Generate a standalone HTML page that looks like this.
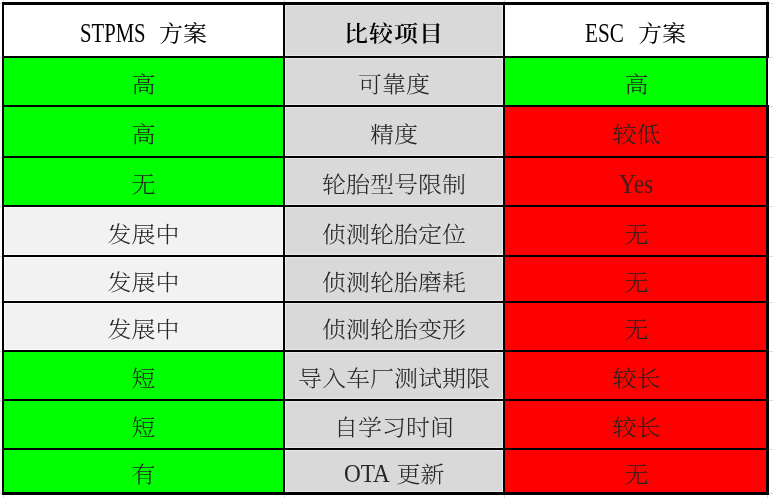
<!DOCTYPE html>
<html lang="zh-CN"><head><meta charset="utf-8"><title>STPMS vs ESC</title>
<style>
html,body{margin:0;padding:0;background:#fff;}
body{width:773px;height:500px;position:relative;overflow:hidden;font-family:"Liberation Serif","Noto Serif CJK SC",serif;}
#frame{position:absolute;left:2px;top:2px;width:767px;height:493px;background:#000;}
  .gl{position:absolute;background:#dcdcdc;}
#notch{position:absolute;left:768px;top:58px;width:1px;height:47px;background:#fff;}
.c{position:absolute;text-align:center;white-space:nowrap;font-size:24px;color:#222;font-weight:300;overflow:hidden;}
.c>span.t{position:relative;display:inline-block;transform:scaleY(0.92);transform-origin:50% 50%;}
.ry{box-shadow:inset 0 0 0 1px #e8e8e8;}
.rl{box-shadow:inset 0 0 0 1px #fbfbfb;}
.h{color:#000;font-weight:400;}
.hb{color:#000;font-weight:600;letter-spacing:1px;}
.m{color:#262626;}
.lat{display:inline-block;position:relative;font-size:28px;height:1em;line-height:1em;vertical-align:baseline;text-align:left;}
.lat>span{display:inline-block;transform-origin:0 50%;white-space:nowrap;}
</style></head><body>
<div class="gl" style="left:0;top:3px;width:773px;height:1px"></div>
<div class="gl" style="left:0;top:57px;width:773px;height:1px"></div>
<div class="gl" style="left:0;top:106px;width:773px;height:1px"></div>
<div class="gl" style="left:0;top:157px;width:773px;height:1px"></div>
<div class="gl" style="left:0;top:206px;width:773px;height:1px"></div>
<div class="gl" style="left:0;top:256px;width:773px;height:1px"></div>
<div class="gl" style="left:0;top:302px;width:773px;height:1px"></div>
<div class="gl" style="left:0;top:351px;width:773px;height:1px"></div>
<div class="gl" style="left:0;top:400px;width:773px;height:1px"></div>
<div class="gl" style="left:0;top:449px;width:773px;height:1px"></div>
<div class="gl" style="left:0;top:493px;width:773px;height:1px"></div>
<div class="gl" style="left:3px;top:0;width:1px;height:498px"></div>
<div class="gl" style="left:284px;top:0;width:1px;height:498px"></div>
<div class="gl" style="left:504px;top:0;width:1px;height:498px"></div>
<div class="gl" style="left:767px;top:0;width:1px;height:498px"></div>
<div id="frame"></div><div id="notch"></div>
<div class="c h" style="left:4px;top:5px;width:279px;height:51px;line-height:51px;background:#ffffff"><span class="t" style="top:4px;left:0px"><span class="lat" style="width:64px;margin:0 15px 0 0px;top:1px;font-size:30px"><span style="transform:scaleX(0.69)">STPMS</span></span>方案</span></div>
<div class="c hb ry" style="left:285px;top:5px;width:218px;height:51px;line-height:51px;background:#d9d9d9"><span class="t" style="top:4px;left:0px">比较项目</span></div>
<div class="c h" style="left:505px;top:5px;width:261px;height:51px;line-height:51px;background:#ffffff"><span class="t" style="top:4px;left:0px"><span class="lat" style="width:39px;margin:0 14px 0 0px;top:1px;font-size:30px"><span style="transform:scaleX(0.705)">ESC</span></span>方案</span></div>
<div class="c " style="left:4px;top:58px;width:279px;height:47px;line-height:47px;background:#00ff00"><span class="t" style="top:4px;left:0px">高</span></div>
<div class="c m ry" style="left:285px;top:58px;width:218px;height:47px;line-height:47px;background:#d9d9d9"><span class="t" style="top:4px;left:0px">可靠度</span></div>
<div class="c " style="left:505px;top:58px;width:261px;height:47px;line-height:47px;background:#00ff00"><span class="t" style="top:4px;left:1px">高</span></div>
<div class="c " style="left:4px;top:107px;width:279px;height:49px;line-height:49px;background:#00ff00"><span class="t" style="top:4px;left:0px">高</span></div>
<div class="c m ry" style="left:285px;top:107px;width:218px;height:49px;line-height:49px;background:#d9d9d9"><span class="t" style="top:4px;left:0px">精度</span></div>
<div class="c " style="left:505px;top:107px;width:261px;height:49px;line-height:49px;background:#ff0000"><span class="t" style="top:4px;left:1px">较低</span></div>
<div class="c " style="left:4px;top:158px;width:279px;height:47px;line-height:47px;background:#00ff00"><span class="t" style="top:4px;left:0px">无</span></div>
<div class="c m ry" style="left:285px;top:158px;width:218px;height:47px;line-height:47px;background:#d9d9d9"><span class="t" style="top:4px;left:0px">轮胎型号限制</span></div>
<div class="c " style="left:505px;top:158px;width:261px;height:47px;line-height:47px;background:#ff0000"><span class="t" style="top:4px;left:0px"><span class="lat" style="opacity:.85;width:34px;margin:0 0px 0 0px;top:1px;font-size:30px"><span style="transform:scaleX(0.785)">Yes</span></span></span></div>
<div class="c m rl" style="left:4px;top:207px;width:279px;height:48px;line-height:48px;background:#f2f2f2"><span class="t" style="top:4px;left:0px">发展中</span></div>
<div class="c m ry" style="left:285px;top:207px;width:218px;height:48px;line-height:48px;background:#d9d9d9"><span class="t" style="top:4px;left:0px">侦测轮胎定位</span></div>
<div class="c " style="left:505px;top:207px;width:261px;height:48px;line-height:48px;background:#ff0000"><span class="t" style="top:4px;left:1px">无</span></div>
<div class="c m rl" style="left:4px;top:257px;width:279px;height:44px;line-height:44px;background:#f2f2f2"><span class="t" style="top:4px;left:0px">发展中</span></div>
<div class="c m ry" style="left:285px;top:257px;width:218px;height:44px;line-height:44px;background:#d9d9d9"><span class="t" style="top:4px;left:0px">侦测轮胎磨耗</span></div>
<div class="c " style="left:505px;top:257px;width:261px;height:44px;line-height:44px;background:#ff0000"><span class="t" style="top:4px;left:1px">无</span></div>
<div class="c m rl" style="left:4px;top:303px;width:279px;height:47px;line-height:47px;background:#f2f2f2"><span class="t" style="top:4px;left:0px">发展中</span></div>
<div class="c m ry" style="left:285px;top:303px;width:218px;height:47px;line-height:47px;background:#d9d9d9"><span class="t" style="top:4px;left:0px">侦测轮胎变形</span></div>
<div class="c " style="left:505px;top:303px;width:261px;height:47px;line-height:47px;background:#ff0000"><span class="t" style="top:4px;left:1px">无</span></div>
<div class="c " style="left:4px;top:352px;width:279px;height:47px;line-height:47px;background:#00ff00"><span class="t" style="top:4px;left:0px">短</span></div>
<div class="c m ry" style="left:285px;top:352px;width:218px;height:47px;line-height:47px;background:#d9d9d9"><span class="t" style="top:4px;left:0px">导入车厂测试期限</span></div>
<div class="c " style="left:505px;top:352px;width:261px;height:47px;line-height:47px;background:#ff0000"><span class="t" style="top:4px;left:1px">较长</span></div>
<div class="c " style="left:4px;top:401px;width:279px;height:47px;line-height:47px;background:#00ff00"><span class="t" style="top:4px;left:0px">短</span></div>
<div class="c m ry" style="left:285px;top:401px;width:218px;height:47px;line-height:47px;background:#d9d9d9"><span class="t" style="top:4px;left:0px">自学习时间</span></div>
<div class="c " style="left:505px;top:401px;width:261px;height:47px;line-height:47px;background:#ff0000"><span class="t" style="top:4px;left:1px">较长</span></div>
<div class="c " style="left:4px;top:450px;width:279px;height:42px;line-height:42px;background:#00ff00"><span class="t" style="top:4px;left:0px">有</span></div>
<div class="c m ry" style="left:285px;top:450px;width:218px;height:42px;line-height:42px;background:#d9d9d9"><span class="t" style="top:4px;left:0px"><span class="lat" style="width:46px;margin:0 7px 0 0px;top:0px;font-size:28px"><span style="transform:scaleX(0.83)">OTA</span></span>更新</span></div>
<div class="c " style="left:505px;top:450px;width:261px;height:42px;line-height:42px;background:#ff0000"><span class="t" style="top:4px;left:1px">无</span></div>
</body></html>
